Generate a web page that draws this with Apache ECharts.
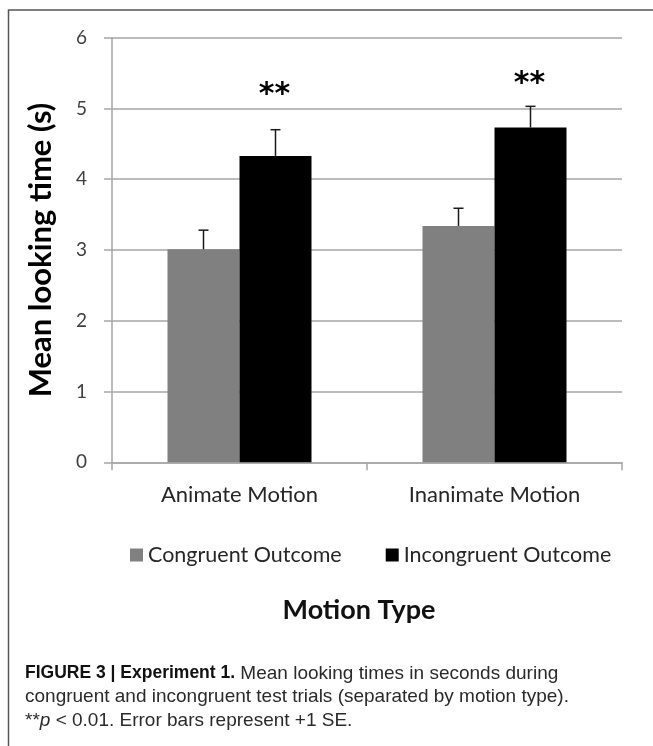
<!DOCTYPE html>
<html>
<head>
<meta charset="utf-8">
<script src="https://cdn.jsdelivr.net/npm/echarts@6/dist/echarts.min.js"></script>
<style>
  html, body { margin: 0; padding: 0; background: #fff; }
  #chart { width: 653px; height: 746px; }
</style>
</head>
<body>
<div id="chart"></div>
<script>
// ---- data ----
const categories = ['Animate Motion', 'Inanimate Motion'];
const seriesNames = ['Congruent Outcome', 'Incongruent Outcome'];
const congruent = [3.01, 3.34];
const incongruent = [4.33, 4.73];
const congruentSE = [0.27, 0.25];
const incongruentSE = [0.37, 0.30];
const starY = [5.26, 5.41];
const starText = ['**', '**'];
const yMin = 0, yMax = 6, yStep = 1;
const yAxisTitle = 'Mean looking time (s)';
const xAxisTitle = 'Motion Type';
const captionLines = [
  '{b|FIGURE 3 | Experiment 1.} Mean looking times in seconds during',
  'congruent and incongruent test trials (separated by motion type).',
  '**{i|p} < 0.01. Error bars represent +1 SE.'
];

// ---- style constants ----
const BAR_W = 72;
const FONT = 'Lato, "Open Sans", sans-serif';
const CAP_FONT = '"Liberation Sans", Arial, sans-serif';
const GRID_COLOR = '#a6a6a6';

const chart = echarts.init(document.getElementById('chart'), null, { renderer: 'canvas' });

function errorItem(sign) {
  return function (params, api) {
    const idx = api.value(0);
    const base = api.coord([idx, api.value(1)]);
    const top = api.coord([idx, api.value(2)]);
    const x = base[0] + sign * BAR_W / 2;
    const cap = 5;
    return {
      type: 'group',
      children: [
        { type: 'line', shape: { x1: x, y1: base[1], x2: x, y2: top[1] }, style: { stroke: '#1a1a1a', lineWidth: 1.5 } },
        { type: 'line', shape: { x1: x - cap, y1: top[1], x2: x + cap, y2: top[1] }, style: { stroke: '#1a1a1a', lineWidth: 1.5 } }
      ]
    };
  };
}

const congErrData = congruent.map((v, i) => [i, v, v + congruentSE[i]]);
const incErrData = incongruent.map((v, i) => [i, v, v + incongruentSE[i]]);
const starData = starY.map((v, i) => [i, v]);

const option = {
  backgroundColor: '#fff',
  animation: false,
  title: {
    text: xAxisTitle,
    left: 354,
    top: 592,
    textAlign: 'center',
    textStyle: { fontFamily: FONT, fontSize: 27, fontWeight: 'bold', color: '#111' }
  },
  grid: { left: 112, right: 31, top: 37.7, bottom: 283.7, containLabel: false },
  legend: {
    data: seriesNames,
    left: 125,
    top: 539,
    itemWidth: 13,
    itemHeight: 13,
    itemGap: 44,
    icon: 'rect',
    textStyle: { fontFamily: FONT, fontSize: 21.5, color: '#262626' }
  },
  xAxis: {
    type: 'category',
    data: categories,
    axisLine: { lineStyle: { color: GRID_COLOR, width: 1.5 } },
    axisTick: { show: true, length: 8, lineStyle: { color: GRID_COLOR, width: 1.5 } },
    axisLabel: { fontFamily: FONT, fontSize: 22, color: '#262626', margin: 22 }
  },
  yAxis: {
    type: 'value',
    min: yMin,
    max: yMax,
    interval: yStep,
    name: yAxisTitle,
    nameLocation: 'middle',
    nameRotate: 90,
    nameGap: 56,
    nameTextStyle: { fontFamily: FONT, fontSize: 31, fontWeight: 'bold', color: '#000' },
    axisLine: { show: true, lineStyle: { color: GRID_COLOR, width: 1.5 } },
    axisTick: { show: true, length: 8, lineStyle: { color: GRID_COLOR, width: 1.5 } },
    axisLabel: { fontFamily: FONT, fontSize: 19, color: '#404040', margin: 25 },
    splitLine: { show: true, lineStyle: { color: GRID_COLOR, width: 1.5 } }
  },
  series: [
    {
      name: seriesNames[0],
      type: 'bar',
      data: congruent,
      barWidth: BAR_W,
      barGap: '0%',
      itemStyle: { color: '#808080' }
    },
    {
      name: seriesNames[1],
      type: 'bar',
      data: incongruent,
      barWidth: BAR_W,
      barGap: '0%',
      itemStyle: { color: '#000000' }
    },
    {
      type: 'custom',
      renderItem: errorItem(-1),
      data: congErrData,
      encode: { x: 0, y: 2 },
      z: 5,
      silent: true
    },
    {
      type: 'custom',
      renderItem: errorItem(1),
      data: incErrData,
      encode: { x: 0, y: 2 },
      z: 5,
      silent: true
    },
    {
      type: 'custom',
      data: starData,
      encode: { x: 0, y: 1 },
      z: 6,
      silent: true,
      renderItem: function (params, api) {
        const p = api.coord([api.value(0), api.value(1)]);
        return {
          type: 'text',
          x: p[0] + BAR_W / 2 - 1,
          y: p[1] + 5,
          style: {
            text: starText[params.dataIndex],
            font: 'bold 30px "DejaVu Sans", sans-serif',
            fill: '#000',
            align: 'center',
            verticalAlign: 'middle'
          }
        };
      }
    }
  ],
  graphic: [
    {
      type: 'rect',
      shape: { x: 8.5, y: 10, width: 700, height: 800 },
      style: { fill: 'none', stroke: '#555', lineWidth: 1.5 },
      silent: true
    }
  ].concat(captionLines.map((t, i) => ({
    type: 'text',
    left: 25,
    top: 664 + i * 23.5,
    silent: true,
    style: {
      text: t,
      font: '19px ' + CAP_FONT,
      fill: '#2a2a2a',
      rich: {
        b: { fontWeight: 'bold', fontSize: 17.5, fontFamily: CAP_FONT, fill: '#111' },
        i: { fontStyle: 'italic', fontSize: 19, fontFamily: CAP_FONT, fill: '#2a2a2a' }
      }
    }
  })))
};

chart.setOption(option);
</script>
</body>
</html>
